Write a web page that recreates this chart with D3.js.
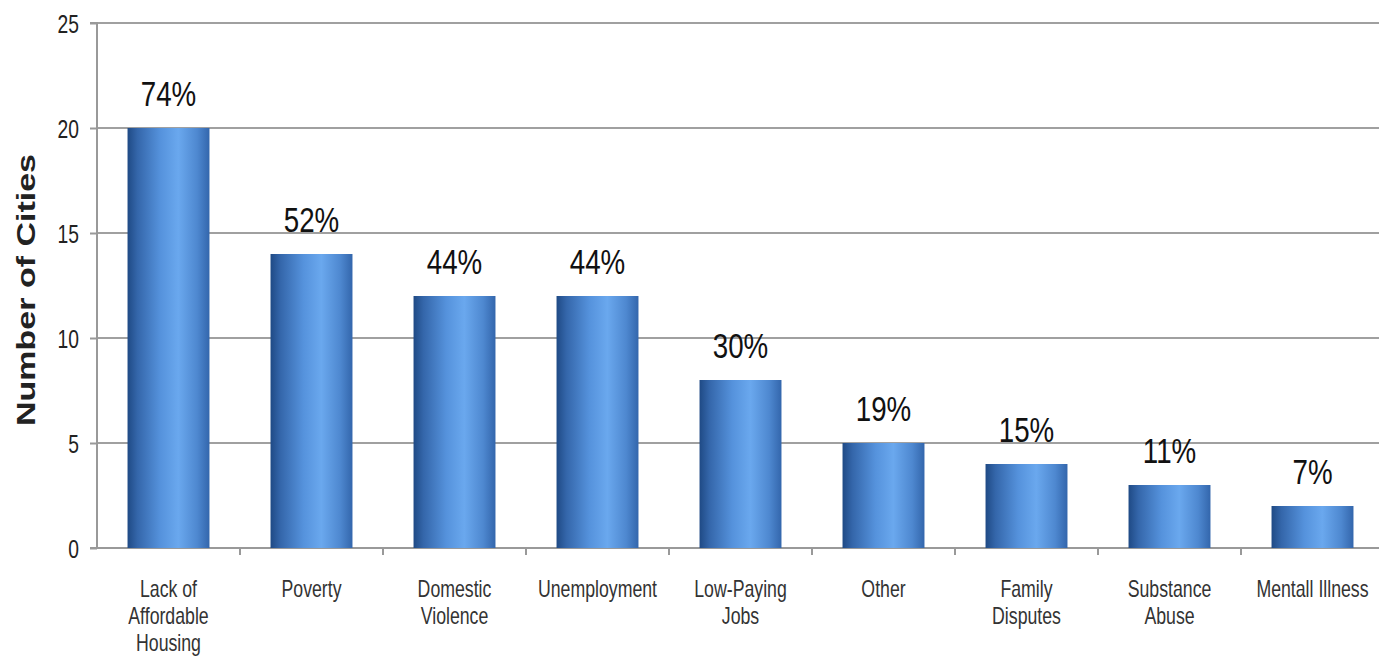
<!DOCTYPE html>
<html>
<head>
<meta charset="utf-8">
<script src="https://cdn.jsdelivr.net/npm/d3@7"></script>
<style>
  html, body { margin: 0; padding: 0; background: #fff; }
  svg { display: block; }
  text { font-family: "Liberation Sans", Arial, sans-serif; }
</style>
</head>
<body>
<svg id="chart" width="1379" height="658"></svg>
<script>
const categories = ["Lack of\nAffordable\nHousing", "Poverty", "Domestic\nViolence", "Unemployment", "Low-Paying\nJobs", "Other", "Family\nDisputes", "Substance\nAbuse", "Mentall Illness"];
const values = [20, 14, 12, 12, 8, 5, 4, 3, 2];
const percentLabels = ["74%", "52%", "44%", "44%", "30%", "19%", "15%", "11%", "7%"];
const yTicks = [0, 5, 10, 15, 20, 25];
const yTitle = "Number of Cities";

const svg = d3.select("#chart");
const SX = 0.77; // horizontal squeeze of the text

const x = d3.scaleBand().domain(categories).range([97, 1384]).paddingInner(0.427).paddingOuter(0.2135);
const y = d3.scaleLinear().domain([0, 25]).range([548, 23]);

const defs = svg.append("defs");
const grad = defs.append("linearGradient").attr("id", "barGrad").attr("x1", "0%").attr("x2", "100%").attr("y1", "0%").attr("y2", "0%");
[["0%", "#1f4a85"], ["12%", "#3466aa"], ["40%", "#5592dc"], ["62%", "#6aa8ee"], ["85%", "#4e88d0"], ["100%", "#3366ac"]]
  .forEach(([o, c]) => grad.append("stop").attr("offset", o).attr("stop-color", c));

// gridlines
svg.append("g").selectAll("line").data(yTicks.filter(t => t > 0)).join("line")
  .attr("x1", 97).attr("x2", 1379)
  .attr("y1", d => y(d)).attr("y2", d => y(d))
  .attr("stroke", "#a0a0a0").attr("stroke-width", 2);

// y axis
const yAxis = d3.axisLeft(y).tickValues(yTicks).tickSize(7).tickPadding(10).tickFormat(d3.format("d"));
const gy = svg.append("g").attr("transform", "translate(97,0)").call(yAxis);
gy.select(".domain").attr("stroke", "#999").attr("stroke-width", 2).attr("d", `M-7,${y(25)}H0V${y(0)}`);
gy.selectAll(".tick line").attr("stroke", "#999").attr("stroke-width", 2);
gy.selectAll(".tick text")
  .attr("fill", "#222").attr("font-size", 25)
  .attr("x", null).attr("dy", null)
  .attr("text-anchor", "end")
  .attr("transform", "translate(-18,9) scale(" + SX + ",1)");

// x axis baseline and ticks
svg.append("line").attr("x1", 90).attr("x2", 1379).attr("y1", y(0)).attr("y2", y(0))
  .attr("stroke", "#999").attr("stroke-width", 2);
const step = x.step();
svg.append("g").selectAll("line").data(categories.slice(1)).join("line")
  .attr("x1", d => x(d) - x.bandwidth() * 0 - (step - x.bandwidth()) / 2)
  .attr("x2", d => x(d) - (step - x.bandwidth()) / 2)
  .attr("y1", y(0)).attr("y2", y(0) + 7)
  .attr("stroke", "#999").attr("stroke-width", 2);

// bars
svg.append("g").selectAll("rect").data(values).join("rect")
  .attr("x", (d, i) => x(categories[i]))
  .attr("width", x.bandwidth())
  .attr("y", d => y(d))
  .attr("height", d => y(0) - y(d))
  .attr("fill", "url(#barGrad)");

// percent labels
svg.append("g").selectAll("text").data(values).join("text")
  .attr("text-anchor", "middle")
  .attr("font-size", 36)
  .attr("fill", "#111")
  .attr("transform", (d, i) => `translate(${x(categories[i]) + x.bandwidth() / 2},${y(d) - 22}) scale(${SX},1)`)
  .text((d, i) => percentLabels[i]);

// category labels
const cl = svg.append("g").selectAll("text").data(categories).join("text")
  .attr("text-anchor", "middle")
  .attr("font-size", 23)
  .attr("fill", "#333")
  .attr("transform", d => `translate(${x(d) + x.bandwidth() / 2},597) scale(${SX},1)`);
cl.each(function(d) {
  const t = d3.select(this);
  d.split("\n").forEach((line, i) => {
    t.append("tspan").attr("x", 0).attr("dy", i === 0 ? 0 : 27).text(line);
  });
});

// y title
svg.append("text")
  .attr("text-anchor", "middle")
  .attr("font-size", 34)
  .attr("font-weight", "bold")
  .attr("fill", "#222")
  .attr("transform", `translate(35,290) rotate(-90) scale(1,${SX})`)
  .text(yTitle);
</script>
</body>
</html>
